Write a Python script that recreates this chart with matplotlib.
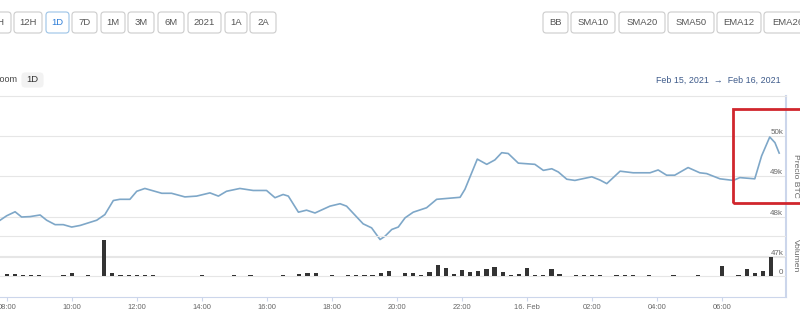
import numpy as np
import matplotlib.pyplot as plt
from matplotlib.patches import FancyBboxPatch, Rectangle

plt.rcParams['font.family'] = ['Liberation Sans', 'DejaVu Sans']

# precio BTC (miles USD), horas desde 15 Feb 00:00
price_hours = [7.80, 8.00, 8.26, 8.46, 8.72, 9.03, 9.23, 9.49, 9.74, 10.00,
               10.26, 10.77, 11.02, 11.28, 11.48, 11.79, 12.00, 12.25, 12.77, 13.07,
               13.48, 13.84, 14.25, 14.51, 14.76, 15.17, 15.58, 15.99, 16.25, 16.50,
               16.66, 16.97, 17.22, 17.48, 17.94, 18.25, 18.45, 18.96, 19.22, 19.48,
               19.63, 19.84, 20.04, 20.25, 20.50, 20.91, 21.22, 21.94, 22.09, 22.47,
               22.76, 23.01, 23.22, 23.42, 23.73, 24.24, 24.50, 24.76, 24.96, 25.22,
               25.47, 25.99, 26.24, 26.45, 26.86, 27.26, 27.78, 28.03, 28.29, 28.54,
               28.95, 29.31, 29.52, 29.93, 30.34, 30.54, 31.00, 31.21, 31.46, 31.62,
               31.75]
prices = [47.91, 48.02, 48.12, 47.99, 48.00, 48.04, 47.91, 47.80, 47.80, 47.74,
          47.78, 47.91, 48.05, 48.40, 48.43, 48.43, 48.63, 48.70, 48.58, 48.58,
          48.49, 48.51, 48.59, 48.51, 48.63, 48.70, 48.65, 48.65, 48.47, 48.55,
          48.51, 48.11, 48.16, 48.09, 48.26, 48.32, 48.26, 47.82, 47.72, 47.43,
          47.51, 47.68, 47.74, 47.97, 48.11, 48.22, 48.43, 48.48, 48.68, 49.43,
          49.30, 49.41, 49.59, 49.57, 49.33, 49.30, 49.15, 49.19, 49.11, 48.93,
          48.90, 48.99, 48.91, 48.82, 49.13, 49.09, 49.09, 49.16, 49.03, 49.03,
          49.22, 49.09, 49.07, 48.94, 48.90, 48.97, 48.94, 49.51, 49.98, 49.84,
          49.58]

# volumen cada 15 min
vol_hours = [8.0, 8.25, 8.5, 8.75, 9.0, 9.75, 10.0, 10.5, 11.0, 11.25,
             11.5, 11.75, 12.0, 12.25, 12.5, 14.0, 15.0, 15.5, 16.5, 17.0,
             17.25, 17.5, 18.0, 18.5, 18.75, 19.0, 19.25, 19.5, 19.75, 20.25,
             20.5, 20.75, 21.0, 21.25, 21.5, 21.75, 22.0, 22.25, 22.5, 22.75,
             23.0, 23.25, 23.5, 23.75, 24.0, 24.25, 24.5, 24.75, 25.0, 25.5,
             25.75, 26.0, 26.25, 26.75, 27.0, 27.25, 27.75, 28.5, 29.25, 30.0,
             30.5, 30.75, 31.0, 31.25, 31.5]
volumes = [100, 100, 50, 50, 50, 50, 150, 50, 1800, 150,
           50, 50, 50, 50, 50, 40, 70, 40, 40, 120,
           170, 130, 40, 40, 40, 70, 50, 170, 250, 130,
           170, 50, 220, 550, 380, 80, 280, 220, 250, 330,
           450, 220, 70, 80, 400, 40, 40, 370, 80, 50,
           50, 50, 50, 40, 40, 40, 40, 40, 40, 480,
           50, 350, 150, 250, 950]

xtick_pos = [8, 10, 12, 14, 16, 18, 20, 22, 24, 26, 28, 30]
xtick_labels = ['08:00', '10:00', '12:00', '14:00', '16:00', '18:00', '20:00',
                '22:00', '16. Feb', '02:00', '04:00', '06:00']
price_ticks = [47, 48, 49, 50]
price_labels = ['47k', '48k', '49k', '50k']

left_buttons = ['1H', '12H', '1D', '7D', '1M', '3M', '6M', '2021', '1A', '2A']
left_edges = [(-15, 11), (14, 42), (46, 69), (72, 97), (101, 125), (128, 154),
              (158, 184), (188, 221), (225, 247), (250, 276)]
right_buttons = ['BB', 'SMA10', 'SMA20', 'SMA50', 'EMA12', 'EMA26']
right_edges = [(543, 568), (571, 615), (619, 665), (668, 714), (717, 761), (764, 812)]

W, H = 800, 324
fig = plt.figure(figsize=(8, 3.24), dpi=100)

grid_c = '#e6e6e6'
axis_c = '#ccd6eb'
txt_c = '#666666'

ax = fig.add_axes([0, 27 / H, 786 / W, 201 / H])
ax2 = ax.twinx()

ax.set_xlim(7.796, 31.96)
ax.set_ylim(46.0, 51.0)
ax.plot(price_hours, prices, color='#7ea7c8', lw=1.2, zorder=3)

ax.set_yticks(price_ticks, labels=price_labels)
ax.yaxis.tick_right()
ax.tick_params(axis='y', length=0, pad=-2, labelsize=5.8, labelcolor=txt_c)
for lbl in ax.get_yticklabels():
    lbl.set_horizontalalignment('right')
    lbl.set_verticalalignment('bottom')
ax.grid(axis='y', color=grid_c, lw=0.8)

ax.set_xticks(xtick_pos, labels=xtick_labels)
ax.tick_params(axis='x', length=3, color=axis_c, pad=2, labelsize=5.4, labelcolor=txt_c)

ax.spines['left'].set_visible(False)
ax.spines['top'].set_color(grid_c)
ax.spines['top'].set_linewidth(0.8)
ax.spines['bottom'].set_color(axis_c)
ax.spines['bottom'].set_linewidth(0.8)
ax.spines['right'].set_color(axis_c)
ax.spines['right'].set_linewidth(1.5)

ax2.set_ylim(-1050, 9000)
ax2.bar(vol_hours, volumes, width=0.13, color='#333333', zorder=3)
ax2.set_yticks([0, 1000, 2000], labels=['0', '', ''])
ax2.tick_params(axis='y', length=0, pad=-2, labelsize=5.8, labelcolor=txt_c)
for lbl in ax2.get_yticklabels():
    lbl.set_horizontalalignment('right')
    lbl.set_verticalalignment('bottom')
ax2.grid(axis='y', color=grid_c, lw=0.8)
ax2.set_axisbelow(True)
for s in ax2.spines.values():
    s.set_visible(False)

fig.text(795 / W, 1 - 176 / H, 'Precio BTC', rotation=270, ha='center', va='center',
         fontsize=6.1, color=txt_c)
fig.text(795 / W, 1 - 256 / H, 'Volumen', rotation=270, ha='center', va='center',
         fontsize=6.1, color=txt_c)


def button(x0, x1, label, y0=12, y1=33, edge='#cccccc', color='#555555', face='white'):
    box = FancyBboxPatch((x0 / W, 1 - y1 / H), (x1 - x0) / W, (y1 - y0) / H,
                         boxstyle='round,pad=0,rounding_size=0.004',
                         mutation_aspect=W / H, transform=fig.transFigure,
                         facecolor=face, edgecolor=edge, lw=0.8)
    fig.add_artist(box)
    fig.text((x0 + x1) / 2 / W, 1 - (y0 + y1) / 2 / H, label, ha='center', va='center',
             fontsize=6.8, color=color)


for (x0, x1), lab in zip(left_edges, left_buttons):
    if lab == '1D':
        button(x0, x1, lab, edge='#9cc3e6', color='#2f7ed8')
    else:
        button(x0, x1, lab)
for (x0, x1), lab in zip(right_edges, right_buttons):
    button(x0, x1, lab)

fig.text(17.5 / W, 1 - 80 / H, 'Zoom', ha='right', va='center', fontsize=6.5, color='#444444')
button(22, 43, '1D', y0=73, y1=87, edge='#f2f2f2', color='#333333', face='#f2f2f2')

fig.text(781 / W, 1 - 80 / H, 'Feb 15, 2021  \u2192  Feb 16, 2021', ha='right', va='center',
         fontsize=6.4, color='#3d5a8a')

fig.add_artist(Rectangle((733 / W, 1 - 203 / H), 80 / W, 94 / H, transform=fig.transFigure,
                         fill=False, edgecolor='#d0262d', lw=2))

fig.savefig('out.png', dpi=100)
